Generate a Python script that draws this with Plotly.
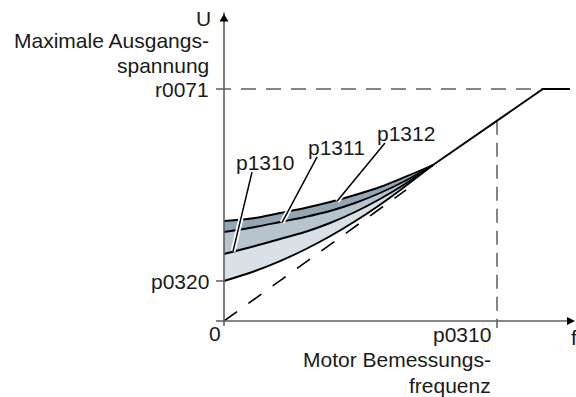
import plotly.graph_objects as go

# U/f characteristic with voltage boost (normalised: p0310 -> f = 1, r0071 -> U = 1)
f_boost = [0.0, 0.1136, 0.2051, 0.2967, 0.3883, 0.4799, 0.5714, 0.6630, 0.7656]
u_p0320 = [0.1724, 0.2155, 0.2582, 0.3082, 0.3651, 0.4297, 0.5013, 0.5802, 0.6724]
u_p1310 = [0.2888, 0.3233, 0.3534, 0.3836, 0.4224, 0.4698, 0.5259, 0.5905, 0.6724]
u_p1311 = [0.3836, 0.4052, 0.4267, 0.4483, 0.4741, 0.5086, 0.5517, 0.6034, 0.6724]
u_p1312 = [0.4310, 0.4440, 0.4655, 0.4871, 0.5129, 0.5431, 0.5776, 0.6207, 0.6724]

# linear section up to the maximum output voltage, then constant
f_linear = [0.7656, 1.168, 1.267]
u_linear = [0.6724, 1.0, 1.0]

# dashed reference line through the origin
f_ref = [0.0, 0.667]
u_ref = [0.0, 0.565]

f_rated = 1.0       # p0310
u_rated = 0.863     # voltage at rated frequency
u_max = 1.0         # r0071
f_max = 1.168

band_colors = ["#d9e1e7", "#b6c4ce", "#93a6b4"]
FONT = dict(family="Liberation Sans, Arial, sans-serif", size=21, color="#1a1a1a")
AXIS_COLOR = "#5e5e5e"

fig = go.Figure()

# shaded boost bands
curves = [u_p0320, u_p1310, u_p1311, u_p1312]
fig.add_trace(go.Scatter(x=f_boost, y=curves[0], mode="lines",
                         line=dict(color="black", width=1.9, shape="spline"),
                         hoverinfo="skip"))
for u, col in zip(curves[1:], band_colors):
    fig.add_trace(go.Scatter(x=f_boost, y=u, mode="lines", fill="tonexty",
                             fillcolor=col,
                             line=dict(color="black", width=1.9, shape="spline"),
                             hoverinfo="skip"))

# dashed line from the origin
fig.add_trace(go.Scatter(x=f_ref, y=u_ref, mode="lines",
                         line=dict(color="black", width=1.6, dash="16px,14px"),
                         hoverinfo="skip"))

# horizontal guide at r0071 and vertical guide at p0310
fig.add_trace(go.Scatter(x=[-0.0293, f_max], y=[u_max, u_max], mode="lines",
                         line=dict(color=AXIS_COLOR, width=1.5, dash="15px,10px"),
                         hoverinfo="skip"))
fig.add_trace(go.Scatter(x=[f_rated, f_rated], y=[u_rated, -0.03], mode="lines",
                         line=dict(color=AXIS_COLOR, width=1.5, dash="14px,8px"),
                         hoverinfo="skip"))

# linear part and limit
fig.add_trace(go.Scatter(x=f_linear, y=u_linear, mode="lines",
                         line=dict(color="black", width=1.9),
                         hoverinfo="skip"))

# leader lines for the boost parameters (white halo under black line)
leaders = {
    "p1310": ([0.1026, 0.033], [0.642, 0.300]),
    "p1311": ([0.341, 0.2125], [0.707, 0.424]),
    "p1312": ([0.5897, 0.414], [0.767, 0.516]),
}
for name, (lx, ly) in leaders.items():
    fig.add_trace(go.Scatter(x=lx, y=ly, mode="lines",
                             line=dict(color="white", width=5), hoverinfo="skip"))
    fig.add_trace(go.Scatter(x=lx, y=ly, mode="lines",
                             line=dict(color="black", width=1.5), hoverinfo="skip"))

# axes
fig.add_shape(type="line", x0=0, x1=0, y0=-0.02, y1=1.33,
              line=dict(color=AXIS_COLOR, width=1.6))
fig.add_shape(type="line", x0=-0.0293, x1=1.27, y0=0, y1=0,
              line=dict(color=AXIS_COLOR, width=1.6))
fig.add_shape(type="line", x0=-0.0293, x1=0, y0=u_p0320[0], y1=u_p0320[0],
              line=dict(color=AXIS_COLOR, width=1.5))
# arrow heads
fig.add_shape(type="path", path="M -0.0165,1.291 L 0.0165,1.291 L 0,1.323 Z",
              fillcolor="black", line=dict(width=0))
fig.add_shape(type="path", path="M 1.2565,0.0172 L 1.2565,-0.0172 L 1.2857,0 Z",
              fillcolor="black", line=dict(width=0))

def label(text, x, y, xanchor="right"):
    fig.add_annotation(x=x, y=y, xref="x", yref="y", text=text, showarrow=False,
                       xanchor=xanchor, yanchor="middle", font=FONT)

label("U", -0.04, 1.305)
label("Maximale Ausgangs-", -0.046, 1.211)
label("spannung", -0.046, 1.103)
label("r0071", -0.046, 0.996)
label("p0320", -0.046, 0.172)
label("0", -0.033, -0.052, "center")
label("p0310", 0.985, -0.060)
label("Motor Bemessungs-", 0.985, -0.168)
label("frequenz", 0.985, -0.276)
label("f", 1.262, -0.069, "left")
label("p1310", 0.1507, 0.685, "center")
label("p1311", 0.4139, 0.750, "center")
label("p1312", 0.6667, 0.810, "center")

fig.update_layout(
    width=576, height=397,
    margin=dict(l=0, r=0, t=0, b=0),
    paper_bgcolor="white", plot_bgcolor="white",
    showlegend=False,
    xaxis=dict(range=[-0.8205, 1.2894], visible=False, fixedrange=True),
    yaxis=dict(range=[-0.3276, 1.3836], visible=False, fixedrange=True),
)

fig.write_html("out.html", config={"displayModeBar": False})
